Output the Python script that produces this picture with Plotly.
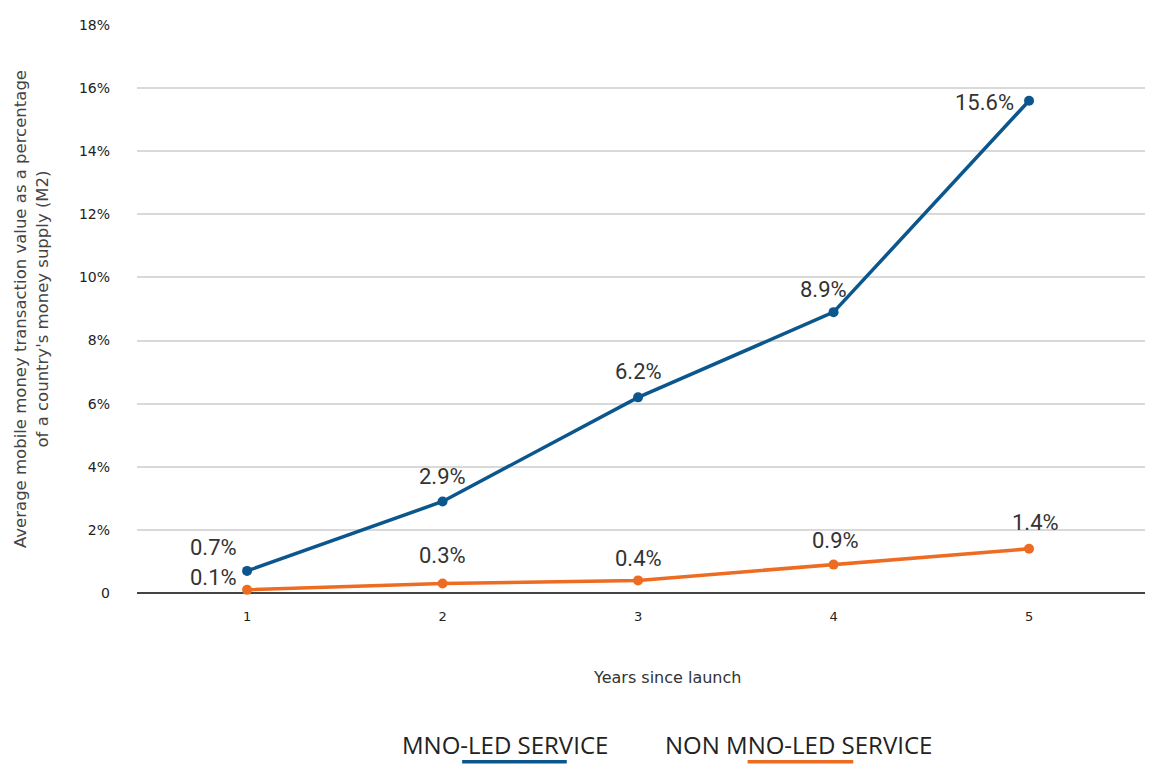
import plotly.graph_objects as go

years = [1, 2, 3, 4, 5]
mno = [0.7, 2.9, 6.2, 8.9, 15.6]
non_mno = [0.1, 0.3, 0.4, 0.9, 1.4]
mno_labels = ["0.7%", "2.9%", "6.2%", "8.9%", "15.6%"]
non_labels = ["0.1%", "0.3%", "0.4%", "0.9%", "1.4%"]
ytick_vals = [0, 2, 4, 6, 8, 10, 12, 14, 16, 18]
ytick_text = ["0", "2%", "4%", "6%", "8%", "10%", "12%", "14%", "16%", "18%"]
series_names = ["MNO-LED SERVICE", "NON MNO-LED SERVICE"]

BLUE = "#0b568c"
ORANGE = "#ee6b22"
LABEL_FONT = "Roboto, Liberation Sans Narrow, sans-serif"
TICK_FONT = "DejaVu Sans, Verdana, sans-serif"

fig = go.Figure()
fig.add_trace(go.Scatter(x=years, y=mno, mode="lines+markers", name=series_names[0],
                         line=dict(color=BLUE, width=3.5), marker=dict(size=10, color=BLUE),
                         showlegend=False, cliponaxis=False))
fig.add_trace(go.Scatter(x=years, y=non_mno, mode="lines+markers", name=series_names[1],
                         line=dict(color=ORANGE, width=3.5), marker=dict(size=10, color=ORANGE),
                         showlegend=False, cliponaxis=False))

# label offsets (pixels): xshift, yshift
mno_off = [(-34, 23), (0, 25), (0, 26), (-10, 23), (-45, -2)]
non_off = [(-34, 12), (0, 28), (0, 22), (2, 24), (6, 26)]
annotations = []
for xv, yv, t, (dx, dy) in zip(years, mno, mno_labels, mno_off):
    annotations.append(dict(x=xv, y=yv, xref="x", yref="y", text=t, showarrow=False,
                            xshift=dx, yshift=dy, font=dict(family=LABEL_FONT, size=22, color="#333333")))
for xv, yv, t, (dx, dy) in zip(years, non_mno, non_labels, non_off):
    annotations.append(dict(x=xv, y=yv, xref="x", yref="y", text=t, showarrow=False,
                            xshift=dx, yshift=dy, font=dict(family=LABEL_FONT, size=22, color="#333333")))

# x-axis title
annotations.append(dict(x=0.522, y=-0.149, xref="paper", yref="paper", text="Years since launch",
                        showarrow=False, xanchor="center", yanchor="middle",
                        font=dict(family=TICK_FONT, size=16, color="#333333")))
# legend texts
annotations.append(dict(x=0.259, y=-0.267, xref="paper", yref="paper", text=series_names[0],
                        showarrow=False, xanchor="left", yanchor="middle",
                        font=dict(family="Open Sans, DejaVu Sans, sans-serif", size=24, color="#222222")))
annotations.append(dict(x=0.518, y=-0.267, xref="paper", yref="paper", text=series_names[1],
                        showarrow=False, xanchor="left", yanchor="middle",
                        font=dict(family="Open Sans, DejaVu Sans, sans-serif", size=24, color="#222222")))

shapes = [
    dict(type="line", xref="paper", yref="paper", x0=0.320, x1=0.423, y0=-0.297, y1=-0.297,
         line=dict(color=BLUE, width=3.5)),
    dict(type="line", xref="paper", yref="paper", x0=0.601, x1=0.705, y0=-0.297, y1=-0.297,
         line=dict(color=ORANGE, width=3.5)),
]

fig.update_layout(
    width=1145, height=757,
    margin=dict(l=129, r=0, t=17, b=172),
    paper_bgcolor="white", plot_bgcolor="white",
    annotations=annotations, shapes=shapes,
    xaxis=dict(range=[0.437, 5.634], tickvals=years, ticktext=[str(v) for v in years],
               showgrid=False, zeroline=False, showline=False, ticks="",
               ticklabelstandoff=14,
               tickfont=dict(family=TICK_FONT, size=13, color="#222222")),
    yaxis=dict(range=[0, 18], tickvals=ytick_vals, ticktext=ytick_text,
               showgrid=True, gridcolor="#d9d9d9", gridwidth=1.5,
               zeroline=True, zerolinecolor="#444444", zerolinewidth=1.5,
               showline=False, ticks="", ticklabelstandoff=26,
               tickfont=dict(family=TICK_FONT, size=14, color="#222222"),
               title=dict(text="Average mobile money transaction value as a percentage<br>of a country's money supply (M2)",
                          font=dict(family=TICK_FONT, size=16.5, color="#444444"), standoff=26)),
)

fig.write_html("out.html")
